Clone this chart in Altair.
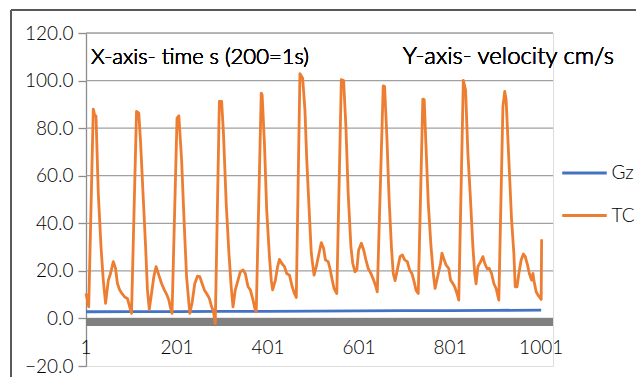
import altair as alt
import pandas as pd

# ---- data ----
tcd_x = [1, 7, 17, 20, 23, 28, 34, 39, 44, 50, 55, 61, 66, 70, 75, 80, 86, 92, 97, 101,
         112, 117, 121, 127, 132, 136, 140, 145, 150, 155, 161, 167, 173, 179, 183, 187, 190,
         201, 205, 211, 217, 222, 229, 234, 240, 246, 251, 256, 261, 266, 272, 277, 281, 285,
         294, 299, 303, 309, 315, 320, 324, 329, 335, 340, 346, 351, 357, 362, 368, 372, 375,
         386, 388, 393, 398, 404, 408, 411, 417, 422, 426, 431, 437, 442, 448, 454, 459, 463,
         471, 477, 482, 486, 492, 496, 502, 507, 513, 518, 523, 527, 533, 537, 542, 546, 552,
         562, 567, 572, 577, 583, 587, 592, 596, 600, 606, 611, 616, 621, 627, 633, 638, 641,
         654, 657, 662, 667, 672, 676, 680, 685, 691, 696, 701, 707, 712, 717, 722, 726, 731,
         741, 744, 748, 753, 759, 764, 768, 775, 780, 783, 788, 792, 798, 802, 807, 811, 816, 820,
         830, 835, 840, 845, 851, 855, 858, 862, 868, 873, 877, 882, 887, 892, 897, 902, 908,
         917, 921, 924, 930, 936, 941, 944, 948, 952, 957, 962, 966, 971, 975, 980, 983, 985,
         990, 994, 998, 1001, 1002]
tcd_y = [10.5, 4.9, 88.0, 85.6, 85.0, 52.6, 30.0, 16.0, 6.3, 16.0, 19.0, 23.9, 21.0, 14.7, 12.0, 10.5, 9.0, 8.4, 4.9, 2.1,
         87.0, 86.3, 73.7, 49.8, 30.0, 12.0, 3.8, 10.5, 17.5, 21.8, 18.2, 14.7, 12.0, 9.8, 7.7, 4.2, 2.1,
         84.2, 85.2, 66.7, 38.6, 17.5, 2.1, 6.5, 14.7, 17.8, 17.6, 14.7, 12.0, 10.5, 8.4, 4.9, 2.8, -2.1,
         91.2, 91.2, 77.9, 48.4, 27.4, 13.3, 4.9, 12.0, 16.1, 19.6, 20.4, 18.9, 13.3, 12.0, 7.7, 4.2, 2.8,
         94.7, 94.0, 73.7, 45.6, 26.0, 16.1, 12.0, 16.0, 21.8, 24.8, 23.2, 21.8, 18.9, 18.2, 13.3, 10.5, 8.8,
         102.9, 101.0, 87.7, 66.7, 42.8, 27.4, 18.2, 21.8, 27.4, 31.9, 29.5, 24.6, 23.9, 21.0, 16.1, 12.6, 10.5,
         100.4, 100.0, 80.7, 52.6, 30.2, 23.2, 19.6, 20.4, 28.8, 31.6, 28.8, 24.6, 21.0, 18.9, 16.1, 13.3, 11.2,
         97.8, 97.5, 76.5, 49.8, 30.2, 18.9, 15.9, 20.4, 26.0, 26.7, 24.6, 23.9, 20.4, 18.9, 15.4, 11.9, 10.5,
         92.2, 92.0, 72.3, 48.4, 30.2, 18.9, 12.6, 18.9, 23.2, 27.4, 24.6, 22.5, 21.0, 16.1, 14.7, 13.3, 10.5, 7.7,
         100.1, 96.0, 69.5, 52.6, 30.2, 18.9, 14.5, 21.8, 23.9, 26.0, 23.2, 21.0, 21.0, 18.9, 14.7, 12.6, 7.7,
         89.1, 95.4, 92.0, 66.7, 41.4, 27.4, 13.3, 13.3, 18.9, 24.6, 27.1, 26.0, 22.5, 18.9, 16.1, 18.9, 16.0,
         11.2, 9.8, 8.8, 8.0, 33.3]
gz_x = [1, 101, 201, 301, 401, 501, 601, 701, 801, 901, 1001]
gz_y = [2.8, 2.85, 2.9, 3.0, 3.0, 3.1, 3.2, 3.3, 3.3, 3.4, 3.5]

series = ["Gz", "TCD"]
colors = ["#4472C4", "#ED7D31"]
y_ticks = [-20, 0, 20, 40, 60, 80, 100, 120]
grid_vals = [0, 20, 40, 60, 80, 100, 120]
x_tick_labels = [1, 201, 401, 601, 801, 1001]
note_x = "X-axis- time s (200=1s)"
note_y = "Y-axis- velocity cm/s"

# ---- tables ----
lines = pd.concat([
    pd.DataFrame({"t": gz_x, "v": gz_y, "s": "Gz"}),
    pd.DataFrame({"t": tcd_x, "v": tcd_y, "s": "TCD"}),
], ignore_index=True)
grid_df = pd.DataFrame({"g": grid_vals})
xlab_df = pd.DataFrame({"t": x_tick_labels})

W, H = 467, 333
FONT = "Lato"
xs = alt.Scale(domain=[1, 1027], nice=False, zero=False)
ys = alt.Scale(domain=[-20, 120], nice=False, zero=False)

# chart-area frame: only its left and top edges fall inside the picture
frame_left = alt.Chart(grid_df).mark_rule(color="#595959", strokeWidth=1.5).encode(
    x=alt.value(-75), y=alt.value(-23), y2=alt.value(H + 60)
)
frame_top = alt.Chart(grid_df).mark_rule(color="#595959", strokeWidth=1.5).encode(
    x=alt.value(-75), x2=alt.value(W + 120), y=alt.value(-23)
)

grid = alt.Chart(grid_df).mark_rule(color="#A0A0A0", strokeWidth=1.3).encode(
    y=alt.Y("g:Q", scale=ys, axis=alt.Axis(
        values=y_ticks, format=".1f", grid=False, title=None,
        domainColor="#8C8C8C", domainWidth=1.3, tickColor="#8C8C8C", tickWidth=1.3,
        tickSize=8, labelFontSize=19, labelFont=FONT, labelFontWeight=300,
        labelColor="#000000", labelPadding=5,
    ))
)

band = alt.Chart(grid_df).mark_rect(color="#808080").encode(
    y=alt.datum(0), y2=alt.datum(-3.2),
)

line_chart = alt.Chart(lines).mark_line(strokeWidth=2.8, strokeJoin="round").encode(
    x=alt.X("t:Q", scale=xs, axis=None),
    y=alt.Y("v:Q", scale=ys),
    color=alt.Color("s:N", scale=alt.Scale(domain=series, range=colors), legend=alt.Legend(
        title=None, orient="none", legendX=474.5, legendY=116, symbolType="stroke",
        symbolSize=1980, symbolStrokeWidth=3, labelFontSize=19, labelFont=FONT,
        labelFontWeight=300, labelColor="#000000", labelOffset=3, rowPadding=8.5, padding=0,
    )),
    order=alt.Order("t:Q"),
)

xlabels = alt.Chart(xlab_df).mark_text(fontSize=19, font=FONT, fontWeight=300,
                                       color="#000000", baseline="middle").encode(
    x=alt.X("t:Q", scale=xs, axis=None),
    y=alt.datum(-12.5),
    text=alt.Text("t:Q", format="d"),
)

ann1 = alt.Chart(xlab_df).mark_text(text=note_x, align="left", baseline="middle", fontSize=22,
                                    font=FONT, fontWeight=300, color="#000000").encode(
    x=alt.datum(12), y=alt.datum(110))
ann2 = alt.Chart(xlab_df).mark_text(text=note_y, align="left", baseline="middle", fontSize=24,
                                    font=FONT, fontWeight=300, color="#000000").encode(
    x=alt.datum(697), y=alt.datum(110))

chart = alt.layer(frame_left, frame_top, grid, band, line_chart, xlabels, ann1, ann2).properties(
    width=W, height=H,
    autosize=alt.AutoSizeParams(type="none"),
    padding={"left": 78, "top": 25, "right": 83, "bottom": 11},
    background="white",
).configure_view(stroke=None).configure(font=FONT)

chart.save("out.html", embed_options={"renderer": "svg", "actions": False})
